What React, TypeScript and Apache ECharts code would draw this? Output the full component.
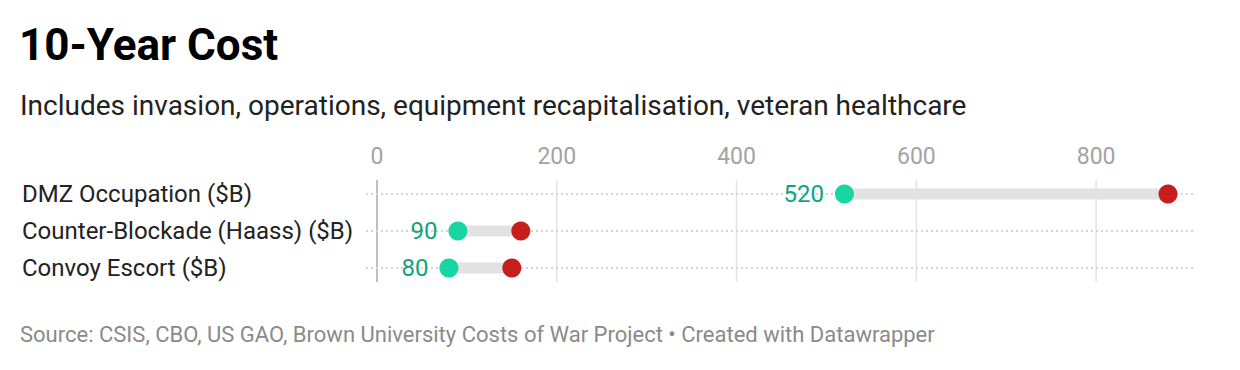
import React, { useEffect, useRef } from "react";
import * as echarts from "echarts";

const categories = ["DMZ Occupation ($B)", "Counter-Blockade (Haass) ($B)", "Convoy Escort ($B)"];
const lowValues = [520, 90, 80];
const highValues = [880, 160, 150];
const gridTicks = [0, 200, 400, 600, 800];
const axisMax = 910;

const titleText = "10-Year Cost";
const subtitleText = "Includes invasion, operations, equipment recapitalisation, veteran healthcare";
const footerText = "Source: CSIS, CBO, US GAO, Brown University Costs of War Project • Created with Datawrapper";

const FONT = "Roboto, 'Noto Sans', sans-serif";

export default function App() {
  const ref = useRef<HTMLDivElement>(null);
  useEffect(() => {
    if (!ref.current) return;
    const chart = echarts.init(ref.current, undefined, { renderer: "svg" });
    const option: any = {
      animation: false,
      backgroundColor: "#ffffff",
      textStyle: { fontFamily: FONT },
      title: [
        {
          text: titleText,
          left: 19,
          top: 23,
          padding: 0,
          textStyle: { fontFamily: FONT, fontSize: 44, fontWeight: "bold", color: "#000000" },
        },
        {
          text: subtitleText,
          left: 20,
          top: 91,
          padding: 0,
          textStyle: { fontFamily: FONT, fontSize: 28, fontWeight: "normal", color: "#222222" },
        },
        {
          text: footerText,
          left: 20,
          top: 323,
          padding: 0,
          textStyle: { fontFamily: FONT, fontSize: 22, fontWeight: "normal", color: "#8a8a8a" },
        },
      ],
      grid: { left: 377, right: 45, top: 175.5, height: 111 },
      xAxis: {
        type: "value",
        position: "top",
        min: 0,
        max: axisMax,
        interval: 200,
        axisLine: { show: false },
        axisTick: { show: false },
        splitLine: { show: false },
        axisLabel: {
          fontFamily: FONT,
          fontSize: 23,
          color: "#a3a3a3",
          margin: 8,
          formatter: (v: number) => (v % 200 === 0 ? String(v) : ""),
        },
      },
      yAxis: {
        type: "category",
        data: categories,
        inverse: true,
        axisLine: { show: false },
        axisTick: { show: false },
        splitLine: { show: false },
        axisLabel: {
          fontFamily: FONT,
          fontSize: 24,
          color: "#222222",
          align: "left",
          margin: 355,
        },
      },
      series: [
        {
          type: "custom",
          z: 1,
          silent: true,
          data: gridTicks.map((v) => [v, 0]),
          renderItem: (params: any, api: any) => {
            const v = api.value(0);
            const top = api.coord([v, 0]);
            const bot = api.coord([v, categories.length - 1]);
            const isZero = v === 0;
            return {
              type: "line",
              shape: { x1: top[0], y1: top[1] - 14, x2: top[0], y2: bot[1] + 14 },
              style: { stroke: isZero ? "#bfbfbf" : "#e4e4e4", lineWidth: isZero ? 2 : 1.6 },
            };
          },
        },
        {
          type: "custom",
          z: 2,
          silent: true,
          data: categories.map((c, i) => [0, i]),
          renderItem: (params: any, api: any) => {
            const i = api.value(1);
            const a = api.coord([0, i]);
            const b = api.coord([axisMax, i]);
            return {
              type: "line",
              shape: { x1: a[0] - 11, y1: a[1], x2: b[0], y2: b[1] },
              style: { stroke: "#d4d4d4", lineWidth: 2, lineDash: [2, 3] },
            };
          },
        },
        {
          type: "custom",
          z: 3,
          silent: true,
          data: categories.map((c, i) => [lowValues[i], highValues[i], i]),
          renderItem: (params: any, api: any) => {
            const a = api.coord([api.value(0), api.value(2)]);
            const b = api.coord([api.value(1), api.value(2)]);
            return {
              type: "line",
              shape: { x1: a[0], y1: a[1], x2: b[0], y2: b[1] },
              style: { stroke: "#e2e2e2", lineWidth: 11 },
            };
          },
          encode: { x: [0, 1], y: 2 },
        },
        {
          type: "scatter",
          z: 5,
          symbol: "circle",
          symbolSize: 19,
          itemStyle: { color: "#c71e1d", opacity: 1 },
          data: categories.map((c, i) => [highValues[i], i]),
        },
        {
          type: "scatter",
          z: 5,
          symbol: "circle",
          symbolSize: 19,
          itemStyle: { color: "#18d6a4", opacity: 1 },
          label: {
            show: true,
            position: "left",
            distance: 11,
            fontFamily: FONT,
            fontSize: 24,
            color: "#0ea67d",
            formatter: (p: any) => String(p.value[0]),
          },
          data: categories.map((c, i) => [lowValues[i], i]),
        },
      ],
    };
    chart.setOption(option);
    return () => chart.dispose();
  }, []);
  return (
    <div
      ref={ref}
      style={{ position: "fixed", left: 0, top: 0, width: 1240, height: 370, background: "#fff" }}
    />
  );
}
